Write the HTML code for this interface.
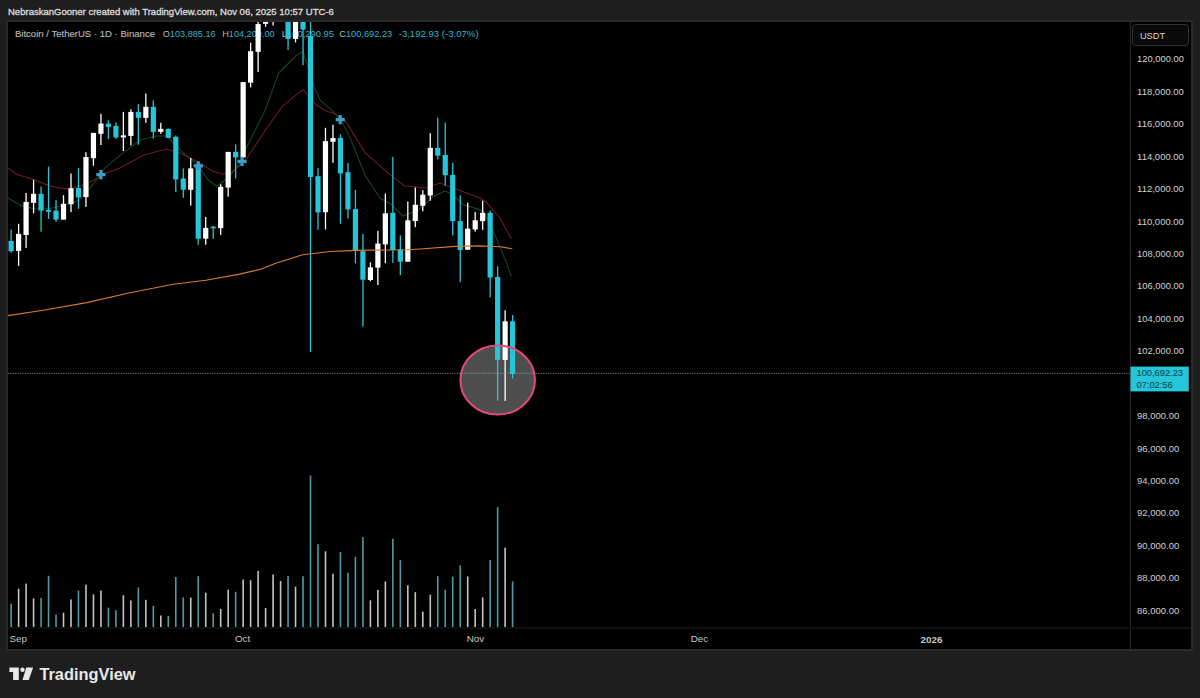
<!DOCTYPE html>
<html><head><meta charset="utf-8"><style>
html,body{margin:0;padding:0;background:#1e1e1e;width:1200px;height:698px;overflow:hidden}
svg{display:block}
text{font-family:"Liberation Sans",sans-serif}
</style></head><body>
<svg width="1200" height="698" viewBox="0 0 1200 698">
<rect x="0" y="0" width="1200" height="698" fill="#1e1e1e"/>
<text x="8" y="15.1" font-size="9.8" fill="#d8d8d8" stroke="#d8d8d8" stroke-width="0.35" textLength="325.8" lengthAdjust="spacingAndGlyphs">NebraskanGooner created with TradingView.com, Nov 06, 2025 10:57 UTC-6</text>
<rect x="6" y="20" width="1187" height="631" fill="#292929"/>
<rect x="8" y="22" width="1183" height="627" fill="#000"/>
<g font-size="9.7" fill="#b8b8b8" stroke="#b8b8b8" stroke-width="0.15">
<text x="14.9" y="36.6" textLength="140.1" lengthAdjust="spacingAndGlyphs">Bitcoin / TetherUS · 1D · Binance</text>
</g>
<g font-size="9.6">
<text x="162.7" y="36.6" fill="#b8b8b8" textLength="53" lengthAdjust="spacingAndGlyphs">O<tspan fill="#2fb6cf">103,885.16</tspan></text>
<text x="222.2" y="36.6" fill="#b8b8b8" textLength="52.4" lengthAdjust="spacingAndGlyphs">H<tspan fill="#2fb6cf">104,200.00</tspan></text>
<text x="281.7" y="36.6" fill="#b8b8b8" textLength="52.4" lengthAdjust="spacingAndGlyphs">L<tspan fill="#2fb6cf">100,290.95</tspan></text>
<text x="339.2" y="36.6" fill="#b8b8b8" textLength="53" lengthAdjust="spacingAndGlyphs">C<tspan fill="#2fb6cf">100,692.23</tspan></text>
<text x="398.7" y="36.6" fill="#2fb6cf" textLength="79.9" lengthAdjust="spacingAndGlyphs">-3,192.93 (-3.07%)</text>
</g>
<svg x="8" y="22" width="1122" height="605" viewBox="8 22 1122 605" overflow="hidden">
<rect x="10.32" y="603.7" width="1.6" height="23.8" fill="#4f9aa5"/><rect x="17.80" y="588.7" width="1.6" height="38.8" fill="#c4c4c4"/><rect x="25.29" y="583.6" width="1.6" height="43.9" fill="#c4c4c4"/><rect x="32.77" y="598.4" width="1.6" height="29.1" fill="#c4c4c4"/><rect x="40.26" y="598.0" width="1.6" height="29.5" fill="#4f9aa5"/><rect x="47.74" y="575.8" width="1.6" height="51.7" fill="#4f9aa5"/><rect x="55.23" y="614.5" width="1.6" height="13.0" fill="#4f9aa5"/><rect x="62.71" y="612.7" width="1.6" height="14.8" fill="#c4c4c4"/><rect x="70.20" y="599.4" width="1.6" height="28.1" fill="#c4c4c4"/><rect x="77.68" y="590.5" width="1.6" height="37.0" fill="#4f9aa5"/><rect x="85.17" y="584.7" width="1.6" height="42.8" fill="#c4c4c4"/><rect x="92.65" y="594.4" width="1.6" height="33.1" fill="#c4c4c4"/><rect x="100.14" y="590.5" width="1.6" height="37.0" fill="#c4c4c4"/><rect x="107.62" y="607.6" width="1.6" height="19.9" fill="#4f9aa5"/><rect x="115.11" y="610.2" width="1.6" height="17.3" fill="#4f9aa5"/><rect x="122.59" y="595.2" width="1.6" height="32.3" fill="#c4c4c4"/><rect x="130.07" y="600.5" width="1.6" height="27.0" fill="#c4c4c4"/><rect x="137.56" y="587.5" width="1.6" height="40.0" fill="#4f9aa5"/><rect x="145.04" y="599.8" width="1.6" height="27.8" fill="#c4c4c4"/><rect x="152.53" y="605.8" width="1.6" height="21.8" fill="#4f9aa5"/><rect x="160.01" y="615.5" width="1.6" height="12.0" fill="#c4c4c4"/><rect x="167.50" y="615.8" width="1.6" height="11.7" fill="#4f9aa5"/><rect x="174.98" y="577.0" width="1.6" height="50.5" fill="#4f9aa5"/><rect x="182.47" y="597.5" width="1.6" height="30.0" fill="#4f9aa5"/><rect x="189.95" y="597.5" width="1.6" height="30.0" fill="#c4c4c4"/><rect x="197.44" y="576.2" width="1.6" height="51.3" fill="#4f9aa5"/><rect x="204.92" y="592.7" width="1.6" height="34.8" fill="#c4c4c4"/><rect x="212.41" y="613.2" width="1.6" height="14.2" fill="#4f9aa5"/><rect x="219.89" y="608.8" width="1.6" height="18.8" fill="#c4c4c4"/><rect x="227.38" y="589.7" width="1.6" height="37.8" fill="#c4c4c4"/><rect x="234.86" y="591.8" width="1.6" height="35.7" fill="#4f9aa5"/><rect x="242.35" y="579.5" width="1.6" height="48.0" fill="#c4c4c4"/><rect x="249.83" y="580.2" width="1.6" height="47.2" fill="#c4c4c4"/><rect x="257.32" y="570.8" width="1.6" height="56.7" fill="#c4c4c4"/><rect x="264.81" y="608.0" width="1.6" height="19.5" fill="#c4c4c4"/><rect x="272.29" y="574.5" width="1.6" height="53.0" fill="#c4c4c4"/><rect x="279.78" y="581.0" width="1.6" height="46.5" fill="#c4c4c4"/><rect x="287.26" y="576.0" width="1.6" height="51.5" fill="#4f9aa5"/><rect x="294.75" y="586.7" width="1.6" height="40.8" fill="#c4c4c4"/><rect x="302.23" y="576.2" width="1.6" height="51.3" fill="#4f9aa5"/><rect x="309.72" y="475.6" width="1.6" height="151.9" fill="#4f9aa5"/><rect x="317.20" y="544.2" width="1.6" height="83.3" fill="#4f9aa5"/><rect x="324.69" y="551.3" width="1.6" height="76.2" fill="#c4c4c4"/><rect x="332.17" y="573.8" width="1.6" height="53.7" fill="#c4c4c4"/><rect x="339.66" y="552.0" width="1.6" height="75.5" fill="#4f9aa5"/><rect x="347.14" y="572.6" width="1.6" height="54.9" fill="#4f9aa5"/><rect x="354.62" y="556.8" width="1.6" height="70.7" fill="#4f9aa5"/><rect x="362.11" y="537.1" width="1.6" height="90.4" fill="#4f9aa5"/><rect x="369.60" y="600.3" width="1.6" height="27.2" fill="#c4c4c4"/><rect x="377.08" y="589.9" width="1.6" height="37.6" fill="#c4c4c4"/><rect x="384.57" y="581.4" width="1.6" height="46.1" fill="#c4c4c4"/><rect x="392.05" y="538.8" width="1.6" height="88.7" fill="#4f9aa5"/><rect x="399.54" y="560.1" width="1.6" height="67.4" fill="#4f9aa5"/><rect x="407.02" y="585.2" width="1.6" height="42.3" fill="#c4c4c4"/><rect x="414.51" y="592.2" width="1.6" height="35.3" fill="#c4c4c4"/><rect x="421.99" y="611.6" width="1.6" height="15.9" fill="#c4c4c4"/><rect x="429.48" y="594.7" width="1.6" height="32.8" fill="#c4c4c4"/><rect x="436.96" y="576.2" width="1.6" height="51.3" fill="#4f9aa5"/><rect x="444.45" y="589.8" width="1.6" height="37.7" fill="#4f9aa5"/><rect x="451.93" y="576.7" width="1.6" height="50.8" fill="#4f9aa5"/><rect x="459.42" y="565.4" width="1.6" height="62.1" fill="#4f9aa5"/><rect x="466.90" y="576.5" width="1.6" height="51.0" fill="#c4c4c4"/><rect x="474.39" y="609.0" width="1.6" height="18.5" fill="#c4c4c4"/><rect x="481.87" y="597.4" width="1.6" height="30.1" fill="#c4c4c4"/><rect x="489.36" y="560.0" width="1.6" height="67.5" fill="#4f9aa5"/><rect x="496.84" y="507.1" width="1.6" height="120.4" fill="#4f9aa5"/><rect x="504.33" y="547.6" width="1.6" height="79.9" fill="#c4c4c4"/><rect x="511.81" y="581.4" width="1.6" height="46.1" fill="#4f9aa5"/>
<polyline points="8.0,168.0 17.0,174.5 31.5,178.8 48.7,185.6 65.9,189.1 78.8,186.5 91.7,181.3 104.6,173.6 120.0,168.0 144.0,155.0 166.0,149.0 180.0,153.0 200.0,163.0 212.0,171.0 222.0,174.0 232.0,172.0 240.0,165.0 247.0,158.0 265.5,130.0 281.5,107.4 293.0,97.3 303.0,89.5 315.9,104.5 324.5,110.2 334.5,113.8 346.0,121.7 365.0,152.6 390.7,175.2 404.2,185.7 425.3,188.0 440.0,183.0 456.0,189.0 480.0,198.0 486.0,202.0 500.0,218.0 511.3,239.0" fill="none" stroke="#701a1e" stroke-width="1.1"/>
<polyline points="8.0,198.0 20.3,205.4 35.0,209.0 50.4,208.5 65.0,205.0 78.8,200.3 90.0,188.2 96.0,180.5 104.6,168.4 120.3,155.1 140.4,140.0 156.4,136.0 166.4,136.0 180.5,150.1 196.5,164.1 208.5,180.2 216.5,186.2 228.0,178.0 240.0,163.0 247.2,146.2 265.3,110.0 278.6,73.0 288.7,63.0 295.8,55.8 303.0,51.5 314.4,87.3 320.2,100.2 331.6,110.2 340.2,118.8 350.0,137.6 365.0,175.2 380.0,198.0 390.7,204.0 402.7,216.0 417.7,210.6 432.8,197.0 444.8,191.0 452.3,194.0 462.9,204.5 477.9,209.1 484.2,212.2 496.3,238.3 506.3,262.4 511.3,276.4" fill="none" stroke="#18461c" stroke-width="1.1"/>
<ellipse cx="497.7" cy="380" rx="37.3" ry="34.6" fill="#4e4e4e"/>
<rect x="10.47" y="229.4" width="1.3" height="23.3" fill="#26c6da"/><rect x="8.52" y="241.0" width="5.2" height="10.2" fill="#26c6da"/><rect x="17.95" y="223.8" width="1.3" height="42.1" fill="#ffffff"/><rect x="16.00" y="233.9" width="5.2" height="17.0" fill="#ffffff"/><rect x="25.44" y="192.9" width="1.3" height="55.0" fill="#ffffff"/><rect x="23.48" y="201.9" width="5.2" height="33.1" fill="#ffffff"/><rect x="32.92" y="179.8" width="1.3" height="33.5" fill="#ffffff"/><rect x="30.97" y="193.8" width="5.2" height="9.0" fill="#ffffff"/><rect x="40.41" y="186.5" width="1.3" height="45.2" fill="#26c6da"/><rect x="38.46" y="193.8" width="5.2" height="16.8" fill="#26c6da"/><rect x="47.89" y="166.5" width="1.3" height="52.4" fill="#26c6da"/><rect x="45.94" y="209.8" width="5.2" height="2.0" fill="#26c6da"/><rect x="55.38" y="200.1" width="1.3" height="21.8" fill="#26c6da"/><rect x="53.43" y="210.6" width="5.2" height="9.0" fill="#26c6da"/><rect x="62.86" y="195.3" width="1.3" height="24.3" fill="#ffffff"/><rect x="60.91" y="203.8" width="5.2" height="15.8" fill="#ffffff"/><rect x="70.34" y="173.5" width="1.3" height="38.6" fill="#ffffff"/><rect x="68.40" y="188.3" width="5.2" height="16.0" fill="#ffffff"/><rect x="77.83" y="168.0" width="1.3" height="40.8" fill="#26c6da"/><rect x="75.88" y="188.0" width="5.2" height="9.4" fill="#26c6da"/><rect x="85.31" y="152.2" width="1.3" height="54.6" fill="#ffffff"/><rect x="83.37" y="157.0" width="5.2" height="40.1" fill="#ffffff"/><rect x="92.80" y="132.9" width="1.3" height="32.8" fill="#ffffff"/><rect x="90.85" y="132.9" width="5.2" height="25.3" fill="#ffffff"/><rect x="100.28" y="113.8" width="1.3" height="31.2" fill="#ffffff"/><rect x="98.34" y="123.6" width="5.2" height="10.2" fill="#ffffff"/><rect x="107.77" y="120.3" width="1.3" height="18.7" fill="#26c6da"/><rect x="105.82" y="123.6" width="5.2" height="3.3" fill="#26c6da"/><rect x="115.25" y="122.4" width="1.3" height="16.6" fill="#26c6da"/><rect x="113.31" y="125.9" width="5.2" height="11.5" fill="#26c6da"/><rect x="122.74" y="111.9" width="1.3" height="39.1" fill="#ffffff"/><rect x="120.79" y="135.3" width="5.2" height="2.1" fill="#ffffff"/><rect x="130.22" y="109.3" width="1.3" height="36.1" fill="#ffffff"/><rect x="128.28" y="111.9" width="5.2" height="24.0" fill="#ffffff"/><rect x="137.71" y="104.1" width="1.3" height="40.6" fill="#26c6da"/><rect x="135.76" y="111.9" width="5.2" height="6.0" fill="#26c6da"/><rect x="145.19" y="93.5" width="1.3" height="29.4" fill="#ffffff"/><rect x="143.25" y="106.8" width="5.2" height="11.1" fill="#ffffff"/><rect x="152.68" y="100.3" width="1.3" height="38.3" fill="#26c6da"/><rect x="150.73" y="106.8" width="5.2" height="25.1" fill="#26c6da"/><rect x="160.16" y="122.9" width="1.3" height="10.9" fill="#ffffff"/><rect x="158.22" y="128.9" width="5.2" height="3.0" fill="#ffffff"/><rect x="167.65" y="128.4" width="1.3" height="9.5" fill="#26c6da"/><rect x="165.70" y="128.9" width="5.2" height="9.0" fill="#26c6da"/><rect x="175.13" y="135.5" width="1.3" height="56.3" fill="#26c6da"/><rect x="173.19" y="136.8" width="5.2" height="42.7" fill="#26c6da"/><rect x="182.62" y="168.4" width="1.3" height="29.4" fill="#26c6da"/><rect x="180.67" y="178.5" width="5.2" height="11.3" fill="#26c6da"/><rect x="190.10" y="157.9" width="1.3" height="47.7" fill="#ffffff"/><rect x="188.16" y="168.4" width="5.2" height="21.4" fill="#ffffff"/><rect x="197.59" y="163.5" width="1.3" height="81.2" fill="#26c6da"/><rect x="195.64" y="166.5" width="5.2" height="72.2" fill="#26c6da"/><rect x="205.07" y="216.9" width="1.3" height="27.8" fill="#ffffff"/><rect x="203.12" y="227.9" width="5.2" height="10.8" fill="#ffffff"/><rect x="212.56" y="225.9" width="1.3" height="12.8" fill="#26c6da"/><rect x="210.61" y="226.7" width="5.2" height="1.6" fill="#26c6da"/><rect x="220.04" y="184.2" width="1.3" height="50.7" fill="#ffffff"/><rect x="218.09" y="186.8" width="5.2" height="41.4" fill="#ffffff"/><rect x="227.53" y="151.9" width="1.3" height="44.7" fill="#ffffff"/><rect x="225.58" y="151.9" width="5.2" height="35.7" fill="#ffffff"/><rect x="235.01" y="144.4" width="1.3" height="34.1" fill="#26c6da"/><rect x="233.06" y="151.9" width="5.2" height="5.5" fill="#26c6da"/><rect x="242.50" y="82.1" width="1.3" height="75.3" fill="#ffffff"/><rect x="240.55" y="82.1" width="5.2" height="75.3" fill="#ffffff"/><rect x="249.98" y="42.8" width="1.3" height="44.5" fill="#ffffff"/><rect x="248.03" y="51.2" width="5.2" height="31.5" fill="#ffffff"/><rect x="257.47" y="22.0" width="1.3" height="49.9" fill="#ffffff"/><rect x="255.52" y="24.1" width="5.2" height="27.7" fill="#ffffff"/><rect x="264.96" y="22.0" width="1.3" height="4.7" fill="#ffffff"/><rect x="263.00" y="22.0" width="5.2" height="1.8" fill="#ffffff"/><rect x="272.44" y="20.0" width="1.3" height="5.5" fill="#ffffff"/><rect x="287.41" y="22.0" width="1.3" height="28.0" fill="#26c6da"/><rect x="285.46" y="22.0" width="5.2" height="16.9" fill="#26c6da"/><rect x="294.90" y="22.0" width="1.3" height="20.4" fill="#ffffff"/><rect x="292.94" y="22.0" width="5.2" height="16.9" fill="#ffffff"/><rect x="302.38" y="22.0" width="1.3" height="43.2" fill="#26c6da"/><rect x="300.43" y="22.0" width="5.2" height="7.6" fill="#26c6da"/><rect x="309.87" y="20.8" width="1.3" height="331.2" fill="#26c6da"/><rect x="307.92" y="36.0" width="5.2" height="141.0" fill="#26c6da"/><rect x="317.35" y="168.0" width="1.3" height="61.7" fill="#26c6da"/><rect x="315.40" y="176.2" width="5.2" height="36.2" fill="#26c6da"/><rect x="324.84" y="127.8" width="1.3" height="101.7" fill="#ffffff"/><rect x="322.88" y="141.1" width="5.2" height="71.1" fill="#ffffff"/><rect x="332.32" y="124.8" width="1.3" height="38.0" fill="#ffffff"/><rect x="330.37" y="138.1" width="5.2" height="3.6" fill="#ffffff"/><rect x="339.81" y="134.3" width="1.3" height="89.5" fill="#26c6da"/><rect x="337.86" y="137.9" width="5.2" height="35.5" fill="#26c6da"/><rect x="347.29" y="162.9" width="1.3" height="55.5" fill="#26c6da"/><rect x="345.34" y="172.2" width="5.2" height="37.2" fill="#26c6da"/><rect x="354.78" y="189.9" width="1.3" height="73.3" fill="#26c6da"/><rect x="352.82" y="209.1" width="5.2" height="41.3" fill="#26c6da"/><rect x="362.26" y="233.9" width="1.3" height="92.8" fill="#26c6da"/><rect x="360.31" y="251.2" width="5.2" height="28.5" fill="#26c6da"/><rect x="369.75" y="262.4" width="1.3" height="18.8" fill="#ffffff"/><rect x="367.80" y="267.4" width="5.2" height="12.6" fill="#ffffff"/><rect x="377.23" y="230.9" width="1.3" height="54.1" fill="#ffffff"/><rect x="375.28" y="243.6" width="5.2" height="24.1" fill="#ffffff"/><rect x="384.72" y="193.5" width="1.3" height="69.7" fill="#ffffff"/><rect x="382.77" y="213.3" width="5.2" height="31.1" fill="#ffffff"/><rect x="392.20" y="156.8" width="1.3" height="106.1" fill="#26c6da"/><rect x="390.25" y="212.8" width="5.2" height="37.2" fill="#26c6da"/><rect x="399.69" y="235.4" width="1.3" height="39.8" fill="#26c6da"/><rect x="397.74" y="249.4" width="5.2" height="12.3" fill="#26c6da"/><rect x="407.17" y="201.5" width="1.3" height="60.2" fill="#ffffff"/><rect x="405.22" y="220.3" width="5.2" height="41.4" fill="#ffffff"/><rect x="414.66" y="187.5" width="1.3" height="39.6" fill="#ffffff"/><rect x="412.71" y="204.8" width="5.2" height="16.3" fill="#ffffff"/><rect x="422.14" y="190.2" width="1.3" height="21.1" fill="#ffffff"/><rect x="420.19" y="194.7" width="5.2" height="11.1" fill="#ffffff"/><rect x="429.63" y="133.1" width="1.3" height="67.7" fill="#ffffff"/><rect x="427.68" y="147.8" width="5.2" height="47.7" fill="#ffffff"/><rect x="437.11" y="117.7" width="1.3" height="41.7" fill="#26c6da"/><rect x="435.16" y="147.8" width="5.2" height="7.8" fill="#26c6da"/><rect x="444.60" y="122.6" width="1.3" height="63.1" fill="#26c6da"/><rect x="442.65" y="154.9" width="5.2" height="20.3" fill="#26c6da"/><rect x="452.08" y="162.9" width="1.3" height="72.5" fill="#26c6da"/><rect x="450.13" y="174.9" width="5.2" height="46.2" fill="#26c6da"/><rect x="459.57" y="195.5" width="1.3" height="86.5" fill="#26c6da"/><rect x="457.62" y="221.1" width="5.2" height="28.9" fill="#26c6da"/><rect x="467.05" y="202.7" width="1.3" height="47.0" fill="#ffffff"/><rect x="465.10" y="228.6" width="5.2" height="21.1" fill="#ffffff"/><rect x="474.54" y="212.1" width="1.3" height="19.5" fill="#ffffff"/><rect x="472.59" y="220.3" width="5.2" height="9.1" fill="#ffffff"/><rect x="482.02" y="200.8" width="1.3" height="29.0" fill="#ffffff"/><rect x="480.07" y="212.8" width="5.2" height="8.3" fill="#ffffff"/><rect x="489.51" y="210.6" width="1.3" height="86.9" fill="#26c6da"/><rect x="487.56" y="212.8" width="5.2" height="64.7" fill="#26c6da"/><rect x="496.99" y="266.2" width="1.3" height="134.7" fill="#26c6da"/><rect x="495.04" y="276.9" width="5.2" height="83.0" fill="#26c6da"/><rect x="504.48" y="310.3" width="1.3" height="90.6" fill="#ffffff"/><rect x="502.53" y="321.3" width="5.2" height="38.6" fill="#ffffff"/><rect x="511.96" y="315.0" width="1.3" height="63.5" fill="#26c6da"/><rect x="510.01" y="321.3" width="5.2" height="52.7" fill="#26c6da"/>
<polyline points="8.0,315.6 43.3,310.2 86.7,302.6 130.0,292.8 173.3,284.2 205.9,280.3 238.4,274.4 260.0,269.4 275.8,263.3 302.7,254.7 330.0,251.5 356.0,250.4 407.0,249.7 420.0,249.0 455.0,246.4 480.0,245.9 500.0,246.7 512.3,248.7" fill="none" stroke="#d97a2e" stroke-width="1.1"/>
<path d="M96.3,173.1h3v-3h3.2v3h3v3.2h-3v3h-3.2v-3h-3z" fill="#3c9fcb"/><path d="M193.7,164.2h3v-3h3.2v3h3v3.2h-3v3h-3.2v-3h-3z" fill="#3c9fcb"/><path d="M237.4,159.7h3v-3h3.2v3h3v3.2h-3v3h-3.2v-3h-3z" fill="#3c9fcb"/><path d="M335.6,118.0h3v-3h3.2v3h3v3.2h-3v3h-3.2v-3h-3z" fill="#3c9fcb"/>
<line x1="8" y1="373.3" x2="1130" y2="373.3" stroke="#7fb0b8" stroke-width="1" stroke-dasharray="1.2,1.2" opacity="0.8"/>
<ellipse cx="497.7" cy="380" rx="37.3" ry="34.6" fill="none" stroke="#e4487c" stroke-width="2"/>
</svg>
<line x1="1130.5" y1="22" x2="1130.5" y2="649" stroke="#262626" stroke-width="1.2"/>
<line x1="8" y1="628" x2="1191" y2="628" stroke="#141414" stroke-width="1.5"/>
<rect x="1132.5" y="24.5" width="56" height="21" rx="3" fill="#0a0a0a" stroke="#333" stroke-width="1"/>
<text x="1139.9" y="39.2" font-size="9.3" fill="#d6d6d6">USDT</text>
<g font-size="9.9" fill="#d2d2d2">
<text x="1137.1" y="62.4" textLength="46.8" lengthAdjust="spacingAndGlyphs">120,000.00</text><text x="1137.1" y="94.8" textLength="46.8" lengthAdjust="spacingAndGlyphs">118,000.00</text><text x="1137.1" y="127.2" textLength="46.8" lengthAdjust="spacingAndGlyphs">116,000.00</text><text x="1137.1" y="159.7" textLength="46.8" lengthAdjust="spacingAndGlyphs">114,000.00</text><text x="1137.1" y="192.1" textLength="46.8" lengthAdjust="spacingAndGlyphs">112,000.00</text><text x="1137.1" y="224.5" textLength="46.8" lengthAdjust="spacingAndGlyphs">110,000.00</text><text x="1137.1" y="256.9" textLength="46.8" lengthAdjust="spacingAndGlyphs">108,000.00</text><text x="1137.1" y="289.4" textLength="46.8" lengthAdjust="spacingAndGlyphs">106,000.00</text><text x="1137.1" y="321.8" textLength="46.8" lengthAdjust="spacingAndGlyphs">104,000.00</text><text x="1137.1" y="354.2" textLength="46.8" lengthAdjust="spacingAndGlyphs">102,000.00</text><text x="1137.1" y="419.1" textLength="42.1" lengthAdjust="spacingAndGlyphs">98,000.00</text><text x="1137.1" y="451.5" textLength="42.1" lengthAdjust="spacingAndGlyphs">96,000.00</text><text x="1137.1" y="483.9" textLength="42.1" lengthAdjust="spacingAndGlyphs">94,000.00</text><text x="1137.1" y="516.3" textLength="42.1" lengthAdjust="spacingAndGlyphs">92,000.00</text><text x="1137.1" y="548.8" textLength="42.1" lengthAdjust="spacingAndGlyphs">90,000.00</text><text x="1137.1" y="581.2" textLength="42.1" lengthAdjust="spacingAndGlyphs">88,000.00</text><text x="1137.1" y="613.6" textLength="42.1" lengthAdjust="spacingAndGlyphs">86,000.00</text>
</g>
<rect x="1130.5" y="366.6" width="58.3" height="24.8" fill="#26c6da"/>
<text x="1136.5" y="376.4" font-size="9.3" fill="#0d3a44">100,692.23</text>
<text x="1136.5" y="387.6" font-size="9.3" fill="#0d3a44">07:02:56</text>
<g font-size="9.8" fill="#c8c8c8" text-anchor="middle">
<text x="18.3" y="642.3">Sep</text>
<text x="242.5" y="642.3">Oct</text>
<text x="475.5" y="642.3">Nov</text>
<text x="699.5" y="642.3">Dec</text>
<text x="931.5" y="642.8" font-weight="bold">2026</text>
</g>
<g fill="#e8e8e8">
<path d="M9.4,667.5H18.8V680H13.1V671.9H9.4Z"/>
<circle cx="22.5" cy="669.7" r="2.2"/>
<path d="M26.3,667.5H33.1L28.8,680H22.5Z"/>
</g>
<text x="39.4" y="680" font-size="17.2" font-weight="bold" fill="#e8e8e8" textLength="96.2" lengthAdjust="spacingAndGlyphs">TradingView</text>
</svg>
</body></html>
